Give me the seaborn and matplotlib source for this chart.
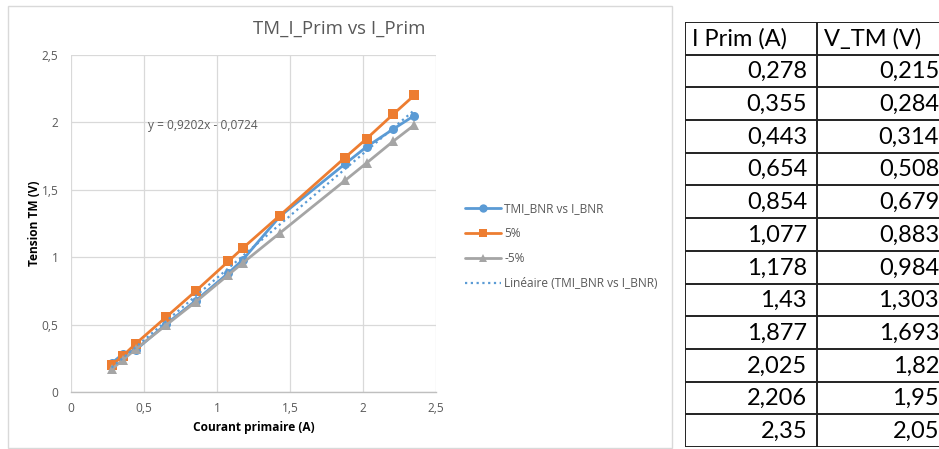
import numpy as np
import pandas as pd
import matplotlib
matplotlib.use("Agg")
import matplotlib.pyplot as plt
from matplotlib.patches import Rectangle
from matplotlib.lines import Line2D
from matplotlib.ticker import FuncFormatter, MultipleLocator
import seaborn as sns

# Measured primary current and transformer voltage
i_prim = [0.278, 0.355, 0.443, 0.654, 0.854, 1.077, 1.178, 1.43, 1.877, 2.025, 2.206, 2.35]
v_tm = [0.215, 0.284, 0.314, 0.508, 0.679, 0.883, 0.984, 1.303, 1.693, 1.82, 1.95, 2.05]
# Tolerance band (+5 % / -5 %)
v_plus5 = [0.20, 0.27, 0.36, 0.56, 0.75, 0.97, 1.07, 1.31, 1.74, 1.88, 2.06, 2.20]
v_minus5 = [0.17, 0.24, 0.32, 0.50, 0.67, 0.87, 0.96, 1.18, 1.57, 1.70, 1.86, 1.98]
# Linear trend of the measured series
slope, intercept = 0.9202, -0.0724

series_names = ["TMI_BNR vs I_BNR", "5%", "-5%"]
trend_name = "Linéaire (TMI_BNR vs I_BNR)"
colors = {"TMI_BNR vs I_BNR": "#5B9BD5", "5%": "#ED7D31", "-5%": "#A5A5A5"}
markers = {"TMI_BNR vs I_BNR": "o", "5%": "s", "-5%": "^"}

col_headers = ["I Prim (A)", "V_TM (V)"]

df = pd.concat([
    pd.DataFrame({"I": i_prim, "V": v_tm, "serie": series_names[0]}),
    pd.DataFrame({"I": i_prim, "V": v_plus5, "serie": series_names[1]}),
    pd.DataFrame({"I": i_prim, "V": v_minus5, "serie": series_names[2]}),
])

sns.set_style("white")
plt.rcParams["font.family"] = ["Open Sans", "DejaVu Sans"]

W, H = 939, 449
fig = plt.figure(figsize=(W / 100, H / 100), dpi=100)

# chart frame
fig.patches.append(Rectangle((8 / W, 1 - 448 / H), 664 / W, 442 / H,
                             transform=fig.transFigure, fill=False,
                             edgecolor="#D9D9D9", linewidth=1.0))

ax = fig.add_axes([71 / W, 1 - 392.3 / H, 365 / W, 337.3 / H])
msize = {"TMI_BNR vs I_BNR": 6.5, "5%": 7.0, "-5%": 7.0}
for name in series_names:
    sub = df[df["serie"] == name]
    sns.lineplot(data=sub, x="I", y="V", ax=ax, color=colors[name],
                 marker=markers[name], markersize=msize[name], markeredgewidth=0,
                 linewidth=2.0, sort=False, estimator=None, legend=False,
                 zorder=3)

xt = np.array([min(i_prim), max(i_prim)])
sns.lineplot(x=xt, y=slope * xt + intercept, ax=ax, color="#5B9BD5",
             linestyle=(0, (1, 1.6)), linewidth=1.6, legend=False, zorder=4)

ax.set_xlim(0, 2.5)
ax.set_ylim(0, 2.5)
ax.xaxis.set_major_locator(MultipleLocator(0.5))
ax.yaxis.set_major_locator(MultipleLocator(0.5))
fmt = FuncFormatter(lambda v, p: ("%g" % v).replace(".", ","))
ax.xaxis.set_major_formatter(fmt)
ax.yaxis.set_major_formatter(fmt)
ax.grid(True, color="#D9D9D9", linewidth=0.9)
ax.set_axisbelow(True)
for s in ["top", "right", "left"]:
    ax.spines[s].set_visible(False)
ax.spines["bottom"].set_color("#BFBFBF")
ax.spines["bottom"].set_linewidth(1.0)
ax.tick_params(axis="both", length=0, labelsize=8.6, labelcolor="#595959")
ax.tick_params(axis="x", pad=7)
ax.tick_params(axis="y", pad=9)
ax.set_xlabel("Courant primaire (A)", fontsize=8.6, fontweight="bold",
              color="#000000", labelpad=4.5)
ax.set_ylabel("Tension TM (V)", fontsize=8.6, fontweight="bold",
              color="#000000", labelpad=0.5)

fig.text(339 / W, 1 - 29 / H, "TM_I_Prim vs I_Prim", ha="center", va="center",
         fontsize=13.4, color="#595959")
ax.text(0.53, 2.0 - 0.02, "y = " + ("%.4f" % slope).replace(".", ",") + "x - "
        + ("%.4f" % -intercept).replace(".", ","),
        fontsize=8.6, color="#595959", va="center", ha="left")

handles = [Line2D([], [], color=colors[n], marker=markers[n], markersize=6,
                  markeredgewidth=0, linewidth=2.0) for n in series_names]
handles.append(Line2D([], [], color="#5B9BD5", linestyle=(0, (1, 1.6)), linewidth=1.6))
fig.legend(handles, series_names + [trend_name], loc="center left",
           bbox_to_anchor=(454 / W, 1 - 246 / H), frameon=False,
           fontsize=8.6, labelcolor="#595959", handlelength=3.0,
           handletextpad=0.3, labelspacing=1.0)

# data table
tab = fig.add_axes([685 / W, 1 - 447 / H, 264 / W, 425 / H])
n_rows = len(i_prim) + 1
tab.set_xlim(0, 2)
tab.set_ylim(n_rows, 0)
tab.axis("off")
for r in range(n_rows + 1):
    tab.axhline(r, color="#222222", linewidth=1.4)
for c in range(3):
    tab.axvline(c, color="#222222", linewidth=1.4)
tfont = dict(family=["Lato", "DejaVu Sans"], fontsize=17, color="#000000", va="center")
for c, h in enumerate(col_headers):
    tab.text(c + 0.055, 0.52, h, ha="left", **tfont)
for r, (a, b) in enumerate(zip(i_prim, v_tm), start=1):
    tab.text(0.925, r + 0.52, ("%g" % a).replace(".", ","), ha="right", **tfont)
    tab.text(1.925, r + 0.52, ("%g" % b).replace(".", ","), ha="right", **tfont)

fig.savefig("out.png", dpi=100)
